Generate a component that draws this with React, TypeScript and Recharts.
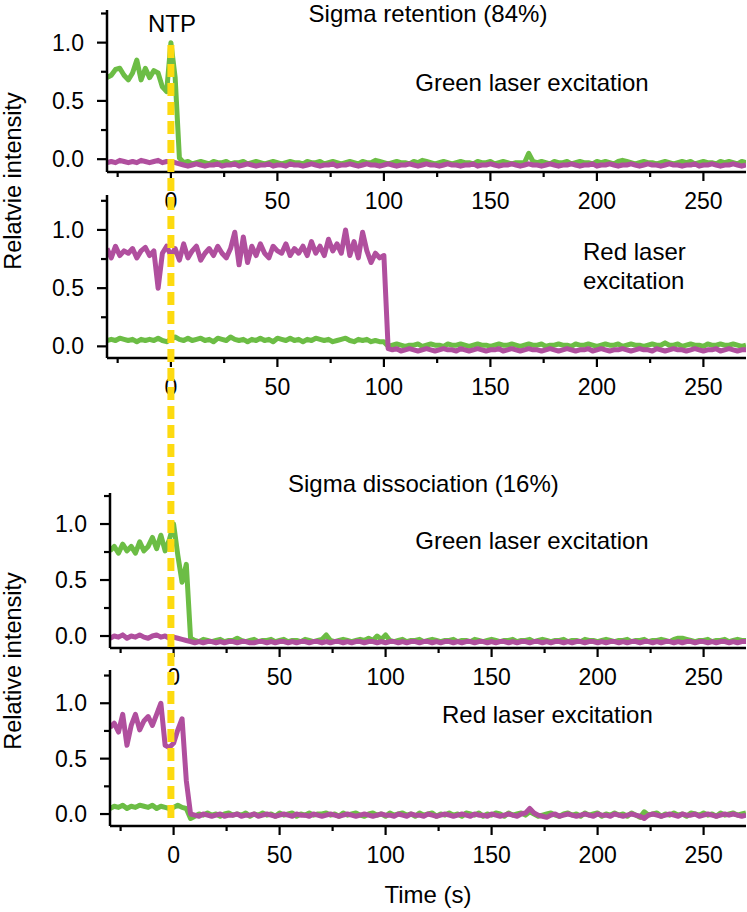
import { LineChart, Line, XAxis, YAxis } from 'recharts'

const GREEN = '#6cbd45'
const MAGENTA = '#b04f9e'
const YELLOW = '#fdda10'
const FONT = '"Liberation Sans", Arial, Helvetica, sans-serif'

// time grid (s): first sample and spacing
const timeStart = -30
const timeStep = 2

const xTicks = [-25, 0, 25, 50, 75, 100, 125, 150, 175, 200, 225, 250]
const yTicks = [0, 0.25, 0.5, 0.75, 1, 1.25]

// NTP addition marker (time, relative height across the whole figure)
const ntpTime = [0, 0]
const ntpLevel = [1, 0]

// Sigma retention, green laser excitation
const retGreenExcGreen = [
  0.70, 0.72, 0.77, 0.78, 0.72, 0.68, 0.74, 0.85, 0.68, 0.78, 0.70, 0.76, 0.74, 0.62, 0.58,
  1.00, 0.70, 0.01,
  -0.03, -0.02, -0.04, -0.03, -0.02, -0.03, -0.04, -0.02, -0.03, -0.03,
  -0.02, -0.04, -0.03, -0.03, -0.02, -0.04, -0.03, -0.02, -0.03, -0.04,
  -0.03, -0.02, -0.03, -0.04, -0.03, -0.02, -0.03, -0.03, -0.04, -0.02,
  -0.03, -0.03, -0.02, -0.04, -0.03, -0.02, -0.03, -0.04, -0.03, -0.02,
  -0.03, -0.04, -0.02, -0.03, -0.03, -0.01, -0.02, -0.03, -0.04, -0.03,
  -0.02, -0.03, -0.03, -0.04, -0.02, -0.03, -0.01, -0.02, -0.03, -0.04,
  -0.03, -0.02, -0.03, -0.04, -0.03, -0.02, -0.03, -0.03, -0.04, -0.02,
  -0.03, -0.03, -0.02, -0.04, -0.03, -0.02, -0.03, -0.04, -0.03, -0.03,
  -0.03,
  0.05,
  -0.02, -0.03, -0.02, -0.03, -0.04, -0.02, -0.03, -0.03, -0.02, -0.04,
  -0.03, -0.02, -0.03, -0.03, -0.04, -0.02, -0.03, -0.02, -0.03, -0.04,
  -0.02, -0.01, -0.02, -0.03, -0.04, -0.03, -0.02, -0.03, -0.03, -0.04,
  -0.03, -0.02, -0.03, -0.04, -0.03, -0.02, -0.03, -0.02, -0.04, -0.03,
  -0.02, -0.03, -0.03, -0.04, -0.02, -0.03, -0.02, -0.03, -0.04, -0.02,
  -0.03,
]
const retGreenExcMagenta = [
  -0.03, -0.02, -0.03, -0.01, -0.02, -0.03, -0.02, -0.03, -0.01, -0.02, -0.03, -0.02, -0.01, -0.03, -0.02, -0.02, -0.03,
  -0.04, -0.05, -0.06, -0.05, -0.04, -0.05, -0.06, -0.05, -0.05, -0.04,
  -0.06, -0.05, -0.05, -0.04, -0.06, -0.05, -0.04, -0.05, -0.06, -0.05,
  -0.05, -0.04, -0.06, -0.05, -0.05, -0.06, -0.04, -0.05, -0.05, -0.06,
  -0.05, -0.04, -0.05, -0.06, -0.05, -0.05, -0.04, -0.06, -0.05, -0.05,
  -0.04, -0.05, -0.06, -0.05, -0.04, -0.05, -0.05, -0.06, -0.05, -0.04,
  -0.05, -0.06, -0.05, -0.05, -0.04, -0.05, -0.06, -0.05, -0.04, -0.05,
  -0.05, -0.06, -0.05, -0.04, -0.05, -0.05, -0.06, -0.05, -0.05, -0.04,
  -0.06, -0.05, -0.05, -0.04, -0.05, -0.06, -0.05, -0.05, -0.04, -0.05,
  -0.06, -0.05, -0.04, -0.05, -0.05, -0.06, -0.05, -0.04, -0.05, -0.06,
  -0.05, -0.05, -0.04, -0.05, -0.06, -0.05, -0.05, -0.04, -0.06, -0.05,
  -0.05, -0.04, -0.05, -0.06, -0.05, -0.05, -0.04, -0.05, -0.06, -0.05,
  -0.04, -0.05, -0.05, -0.06, -0.05, -0.04, -0.05, -0.05, -0.06, -0.05,
  -0.05, -0.04, -0.06, -0.05, -0.05, -0.04, -0.05, -0.06, -0.05, -0.05,
  -0.04, -0.05, -0.06, -0.05,
]

// Sigma retention, red laser excitation
const retRedExcGreen = [
  0.05, 0.06, 0.05, 0.07, 0.06, 0.05, 0.06, 0.04, 0.06, 0.05,
  0.06, 0.05, 0.07, 0.05, 0.04, 0.06, 0.08, 0.06, 0.05, 0.07,
  0.05, 0.06, 0.07, 0.05, 0.06, 0.04, 0.07, 0.06, 0.05, 0.08,
  0.06, 0.05, 0.06, 0.04, 0.06, 0.05, 0.07, 0.05, 0.06, 0.04,
  0.07, 0.06, 0.05, 0.07, 0.05, 0.06, 0.04, 0.06, 0.05, 0.07,
  0.06, 0.05, 0.06, 0.04, 0.05, 0.06, 0.07, 0.05, 0.04, 0.06,
  0.05, 0.06, 0.04, 0.05, 0.04, 0.04,
  0.00, 0.01, 0.02, 0.01, 0.00, 0.01, 0.01, 0.02, 0.00, 0.01,
  0.02, 0.01, 0.01, 0.00, 0.02, 0.01, 0.01, 0.02, 0.01, 0.00,
  0.01, 0.02, 0.01, 0.01, 0.00, 0.01, 0.02, 0.01, 0.01, 0.02,
  0.01, 0.00, 0.01, 0.02, 0.01, 0.01, 0.02, 0.00, 0.01, 0.01,
  0.02, 0.01, 0.01, 0.00, 0.02, 0.01, 0.01, 0.02, 0.01, 0.00,
  0.01, 0.02, 0.01, 0.01, 0.02, 0.00, 0.01, 0.02, 0.01, 0.01,
  0.00, 0.01, 0.02, 0.01, 0.01, 0.03, 0.01, 0.01, 0.02, 0.00,
  0.01, 0.02, 0.01, 0.01, 0.00, 0.02, 0.01, 0.01, 0.02, 0.01,
  0.01, 0.02, 0.01, 0.00, 0.01,
]
const retRedExcMagenta = [
  0.84, 0.76, 0.86, 0.78, 0.82, 0.80, 0.84, 0.76, 0.82, 0.85,
  0.78, 0.82, 0.50, 0.80, 0.86, 0.78, 0.84, 0.74, 0.88, 0.76,
  0.82, 0.86, 0.74, 0.80, 0.84, 0.78, 0.86, 0.80, 0.76, 0.84,
  0.98, 0.70, 0.94, 0.72, 0.86, 0.78, 0.88, 0.80, 0.76, 0.86,
  0.82, 0.80, 0.88, 0.78, 0.84, 0.80, 0.86, 0.78, 0.90, 0.80,
  0.86, 0.78, 0.92, 0.82, 0.88, 0.80, 1.00, 0.78, 0.90, 0.76,
  0.98, 0.82, 0.72, 0.80, 0.76, 0.78,
  -0.02, -0.03, -0.02, -0.04, -0.03, -0.02, -0.03, -0.04, -0.03, -0.02,
  -0.03, -0.04, -0.03, -0.02, -0.03, -0.03, -0.04, -0.02, -0.03, -0.04,
  -0.03, -0.02, -0.03, -0.04, -0.03, -0.03, -0.02, -0.04, -0.03, -0.02,
  -0.03, -0.04, -0.03, -0.02, -0.03, -0.03, -0.04, -0.03, -0.02, -0.03,
  -0.04, -0.03, -0.02, -0.03, -0.04, -0.03, -0.03, -0.02, -0.04, -0.03,
  -0.02, -0.03, -0.04, -0.03, -0.03, -0.02, -0.03, -0.04, -0.03, -0.02,
  -0.03, -0.03, -0.04, -0.02, -0.03, -0.04, -0.03, -0.02, -0.03, -0.03,
  -0.04, -0.03, -0.02, -0.03, -0.04, -0.03, -0.03, -0.02, -0.04, -0.03,
  -0.02, -0.03, -0.04, -0.03, -0.03,
]

// Sigma dissociation, green laser excitation
const disGreenExcGreen = [
  0.76, 0.80, 0.74, 0.82, 0.76, 0.80, 0.74, 0.84, 0.76, 0.80,
  0.88, 0.78, 0.90, 0.76, 0.86, 1.00, 0.72, 0.48, 0.64, -0.02,
  -0.04, -0.05, -0.03, -0.04, -0.05, -0.04, -0.03, -0.05, -0.04, -0.04,
  -0.02, -0.04, -0.05, -0.04, -0.03, -0.05, -0.04, -0.04, -0.03, -0.05,
  -0.04, -0.03, -0.05, -0.04, -0.04, -0.05, -0.03, -0.04, -0.05, -0.04,
  -0.03, 0.01, -0.04, -0.05, -0.04, -0.03, -0.04, -0.05, -0.04, -0.03,
  -0.04, -0.02, -0.04, 0.00, -0.03, 0.01, -0.04, -0.05, -0.04, -0.03,
  -0.05, -0.04, -0.04, -0.03, -0.05, -0.04, -0.03, -0.04, -0.05, -0.04,
  -0.04, -0.03, -0.05, -0.04, -0.04, -0.05, -0.03, -0.04, -0.05, -0.04,
  -0.03, -0.04, -0.05, -0.04, -0.04, -0.03, -0.05, -0.04, -0.04, -0.03,
  -0.05, -0.04, -0.03, -0.04, -0.05, -0.04, -0.04, -0.03, -0.05, -0.04,
  -0.04, -0.05, -0.03, -0.04, -0.04, -0.05, -0.04, -0.03, -0.04, -0.05,
  -0.04, -0.04, -0.03, -0.05, -0.04, -0.04, -0.03, -0.05, -0.04, -0.04,
  -0.03, -0.04, -0.05, -0.03, -0.02, -0.02, -0.03, -0.04, -0.05, -0.04,
  -0.04, -0.03, -0.05, -0.04, -0.04, -0.03, -0.05, -0.04, -0.03, -0.04,
  -0.04,
]
const disGreenExcMagenta = [
  -0.02, 0.00, -0.01, 0.01, -0.02, 0.00, -0.01, 0.01, -0.01, -0.02, 0.00, 0.01, -0.01, 0.00, -0.02, -0.01,
  -0.02, -0.03, -0.04,
  -0.05, -0.06, -0.05, -0.06, -0.05, -0.05, -0.06, -0.05, -0.06, -0.05,
  -0.05, -0.06, -0.05, -0.05, -0.06, -0.06, -0.05, -0.05, -0.06, -0.05,
  -0.06, -0.05, -0.05, -0.06, -0.05, -0.06, -0.05, -0.05, -0.06, -0.05,
  -0.05, -0.06, -0.05, -0.06, -0.05, -0.05, -0.06, -0.05, -0.06, -0.05,
  -0.05, -0.06, -0.05, -0.05, -0.06, -0.05, -0.06, -0.05, -0.05, -0.06,
  -0.05, -0.06, -0.05, -0.05, -0.06, -0.05, -0.05, -0.06, -0.05, -0.06,
  -0.05, -0.05, -0.06, -0.05, -0.06, -0.05, -0.05, -0.06, -0.05, -0.05,
  -0.06, -0.05, -0.06, -0.05, -0.05, -0.06, -0.05, -0.06, -0.05, -0.05,
  -0.06, -0.05, -0.05, -0.06, -0.05, -0.06, -0.05, -0.05, -0.06, -0.05,
  -0.06, -0.05, -0.05, -0.06, -0.05, -0.05, -0.06, -0.05, -0.06, -0.05,
  -0.05, -0.06, -0.05, -0.06, -0.05, -0.05, -0.06, -0.05, -0.05, -0.06,
  -0.05, -0.06, -0.05, -0.05, -0.06, -0.05, -0.06, -0.05, -0.05, -0.06,
  -0.05, -0.05, -0.06, -0.05, -0.06, -0.05, -0.05, -0.06, -0.05, -0.06,
  -0.05, -0.05,
]

// Sigma dissociation, red laser excitation
const disRedExcGreen = [
  0.05, 0.07, 0.06, 0.08, 0.05, 0.07, 0.06, 0.08, 0.07, 0.06,
  0.08, 0.05, 0.07, 0.06, 0.05, 0.06, 0.08, 0.06, 0.05,
  -0.04,
  -0.02, 0.00, -0.01, 0.01, -0.01, 0.00, -0.02, 0.00, 0.01, -0.01,
  0.00, -0.01, 0.01, -0.02, 0.00, -0.01, 0.01, -0.01, 0.00, -0.02,
  0.01, -0.01, 0.00, 0.01, -0.02, 0.00, -0.01, 0.01, -0.01, 0.00,
  0.00, 0.01, -0.01, 0.00, -0.02, 0.01, -0.01, 0.00, 0.01, -0.01,
  -0.02, 0.00, 0.01, -0.01, 0.00, -0.02, 0.01, -0.01, 0.00, 0.01,
  -0.01, 0.00, -0.02, 0.01, -0.01, 0.00, 0.01, -0.02, 0.00, -0.01,
  0.01, -0.01, 0.00, -0.02, 0.01, 0.00, -0.01, 0.01, -0.02, 0.00,
  -0.01, 0.01, 0.00, -0.02, 0.01, -0.01, 0.00, 0.01, -0.01, 0.02,
  0.00, -0.02, -0.01, 0.00, 0.01, -0.01, -0.02, 0.00, 0.01, -0.01,
  0.00, -0.02, 0.01, -0.01, 0.00, 0.01, -0.02, 0.00, -0.01, 0.01,
  -0.01, 0.00, -0.02, 0.01, -0.01, -0.03, 0.02, -0.01, 0.00, 0.01,
  -0.02, 0.00, -0.01, 0.01, -0.01, 0.00, -0.02, 0.01, 0.00, -0.01,
  0.01, -0.01, 0.00, -0.02, 0.01, -0.01, 0.00, 0.01, -0.01, 0.00,
  0.01,
]
const disRedExcMagenta = [
  0.78, 0.82, 0.74, 0.90, 0.62, 0.80, 0.90, 0.76, 0.84, 0.88,
  0.80, 0.90, 1.00, 0.62, 0.60, 0.64, 0.76, 0.86, 0.30, 0.00,
  -0.01, -0.02, 0.00, -0.01, -0.02, -0.01, 0.00, -0.02, -0.01, -0.01,
  0.00, -0.02, -0.01, -0.01, 0.00, -0.02, -0.01, 0.00, -0.01, -0.02,
  -0.01, 0.00, -0.01, -0.02, 0.00, -0.01, -0.01, -0.02, 0.00, -0.01,
  -0.02, -0.01, 0.00, -0.01, -0.02, -0.01, 0.00, -0.01, -0.02, -0.01,
  0.00, -0.01, -0.02, -0.01, 0.00, -0.01, -0.01, -0.02, 0.00, -0.01,
  -0.02, 0.00, -0.01, -0.01, -0.02, 0.00, -0.01, -0.02, -0.01, 0.00,
  -0.01, -0.02, -0.01, 0.00, -0.01, -0.02, 0.00, -0.01, -0.01, -0.02,
  0.00, -0.01, -0.02, -0.01, 0.00, -0.01, -0.02, 0.00, 0.01,
  0.05,
  0.01, -0.01, -0.02, -0.03, -0.01, 0.00, -0.02, -0.01, 0.00, -0.01,
  -0.02, -0.01, 0.00, -0.01, -0.02, 0.00, -0.01, -0.01, -0.02, 0.00,
  -0.01, -0.02, -0.01, 0.00, -0.01, -0.02,
  -0.04,
  -0.01, 0.00, -0.01, -0.02, -0.01, 0.00, -0.01, -0.02, 0.00, -0.01,
  -0.01, 0.00, -0.02, -0.01, 0.00, -0.01, -0.02, -0.01, 0.00, -0.01,
  0.00, -0.01, -0.02, -0.01,
]

function buildRows(green: number[], magenta: number[]) {
  return green.map((g, i) => ({ t: timeStart + i * timeStep, green: g, magenta: magenta[i] }))
}

const XTick = (props: any) => {
  const { x, y, payload } = props
  const v = payload.value
  const major = v % 50 === 0
  return (
    <g>
      <line x1={x} y1={y} x2={x} y2={y + (major ? 9 : 5)} stroke="#000" strokeWidth={2.2} />
      {major && (
        <text x={x} y={y + 37} textAnchor="middle" fontSize={23} fontFamily={FONT} fill="#000">
          {v}
        </text>
      )}
    </g>
  )
}

const YTick = (props: any) => {
  const { x, y, payload } = props
  const v = payload.value
  const major = Math.abs(v * 2 - Math.round(v * 2)) < 1e-6
  return (
    <g>
      <line x1={x - (major ? 10 : 6)} y1={y} x2={x} y2={y} stroke="#000" strokeWidth={2.2} />
      {major && (
        <text x={x - 23} y={y + 8} textAnchor="end" fontSize={23} fontFamily={FONT} fill="#000">
          {v.toFixed(1)}
        </text>
      )}
    </g>
  )
}

function Panel({
  top,
  left,
  height,
  domain,
  rows,
}: {
  top: number
  left: number
  height: number
  domain: [number, number]
  rows: { t: number; green: number; magenta: number }[]
}) {
  const mTop = 6
  return (
    <div style={{ position: 'absolute', left: 0, top: top - mTop }}>
      <LineChart
        width={747}
        height={mTop + height + 45}
        data={rows}
        margin={{ top: mTop, right: 1, bottom: 0, left: 0 }}
      >
        <XAxis
          dataKey="t"
          type="number"
          domain={[-30, 270]}
          ticks={xTicks}
          interval={0}
          tick={<XTick />}
          tickLine={false}
          tickSize={0}
          tickMargin={0}
          axisLine={{ stroke: '#000', strokeWidth: 2.5 }}
          height={45}
          allowDataOverflow
        />
        <YAxis
          type="number"
          domain={domain}
          ticks={yTicks}
          interval={0}
          tick={<YTick />}
          tickLine={false}
          tickSize={0}
          tickMargin={0}
          axisLine={{ stroke: '#000', strokeWidth: 2.5 }}
          width={left}
          allowDataOverflow
        />
        <Line
          dataKey="green"
          stroke={GREEN}
          strokeWidth={5}
          strokeLinejoin="round"
          dot={false}
          isAnimationActive={false}
        />
        <Line
          dataKey="magenta"
          stroke={MAGENTA}
          strokeWidth={5}
          strokeLinejoin="round"
          dot={false}
          isAnimationActive={false}
        />
      </LineChart>
    </div>
  )
}

export default function App() {
  const retGreen = buildRows(retGreenExcGreen, retGreenExcMagenta)
  const retRed = buildRows(retRedExcGreen, retRedExcMagenta)
  const disGreen = buildRows(disGreenExcGreen, disGreenExcMagenta)
  const disRed = buildRows(disRedExcGreen, disRedExcMagenta)
  const ntpRows = ntpTime.map((t, i) => ({ t, level: ntpLevel[i] }))

  const txt = { fontFamily: FONT, fontSize: 24, fill: '#000' }

  return (
    <div
      style={{
        position: 'absolute',
        left: 0,
        top: 0,
        width: 747,
        height: 912,
        background: '#fff',
        overflow: 'hidden',
      }}
    >
      <Panel top={10} left={107} height={162} domain={[-0.11, 1.28]} rows={retGreen} />
      <Panel top={195} left={107} height={163} domain={[-0.1, 1.3]} rows={retRed} />
      <Panel top={493} left={110} height={155} domain={[-0.107, 1.277]} rows={disGreen} />
      <Panel top={670} left={110} height={156} domain={[-0.108, 1.3]} rows={disRed} />

      {/* NTP marker spanning all panels */}
      <div style={{ position: 'absolute', left: 0, top: 45 }}>
        <LineChart
          width={747}
          height={773}
          data={ntpRows}
          margin={{ top: 0, right: 1, bottom: 0, left: 107 }}
        >
          <XAxis dataKey="t" type="number" domain={[-30, 270]} hide />
          <YAxis type="number" domain={[0, 1]} hide />
          <Line
            dataKey="level"
            stroke={YELLOW}
            strokeWidth={7}
            strokeDasharray="13 6"
            dot={false}
            isAnimationActive={false}
          />
        </LineChart>
      </div>

      <svg
        width={747}
        height={912}
        style={{ position: 'absolute', left: 0, top: 0, pointerEvents: 'none' }}
      >
        <text x={172} y={32} textAnchor="middle" {...txt}>NTP</text>
        <text x={428} y={22} textAnchor="middle" {...txt}>Sigma retention (84%)</text>
        <text x={532} y={91} textAnchor="middle" {...txt}>Green laser excitation</text>
        <text x={583} y={260} {...txt}>Red laser</text>
        <text x={583} y={289} {...txt}>excitation</text>
        <text x={288} y={492} {...txt}>Sigma dissociation (16%)</text>
        <text x={532} y={549} textAnchor="middle" {...txt}>Green laser excitation</text>
        <text x={442} y={723} {...txt}>Red laser excitation</text>
        <text x={428} y={903} textAnchor="middle" {...txt}>Time (s)</text>
        <text
          transform="translate(21,181) rotate(-90)"
          textAnchor="middle"
          fontFamily={FONT}
          fontSize={23.5}
          fill="#000"
        >
          Relatvie intensity
        </text>
        <text
          transform="translate(21,661) rotate(-90)"
          textAnchor="middle"
          fontFamily={FONT}
          fontSize={23.5}
          fill="#000"
        >
          Relative intensity
        </text>
      </svg>
    </div>
  )
}
